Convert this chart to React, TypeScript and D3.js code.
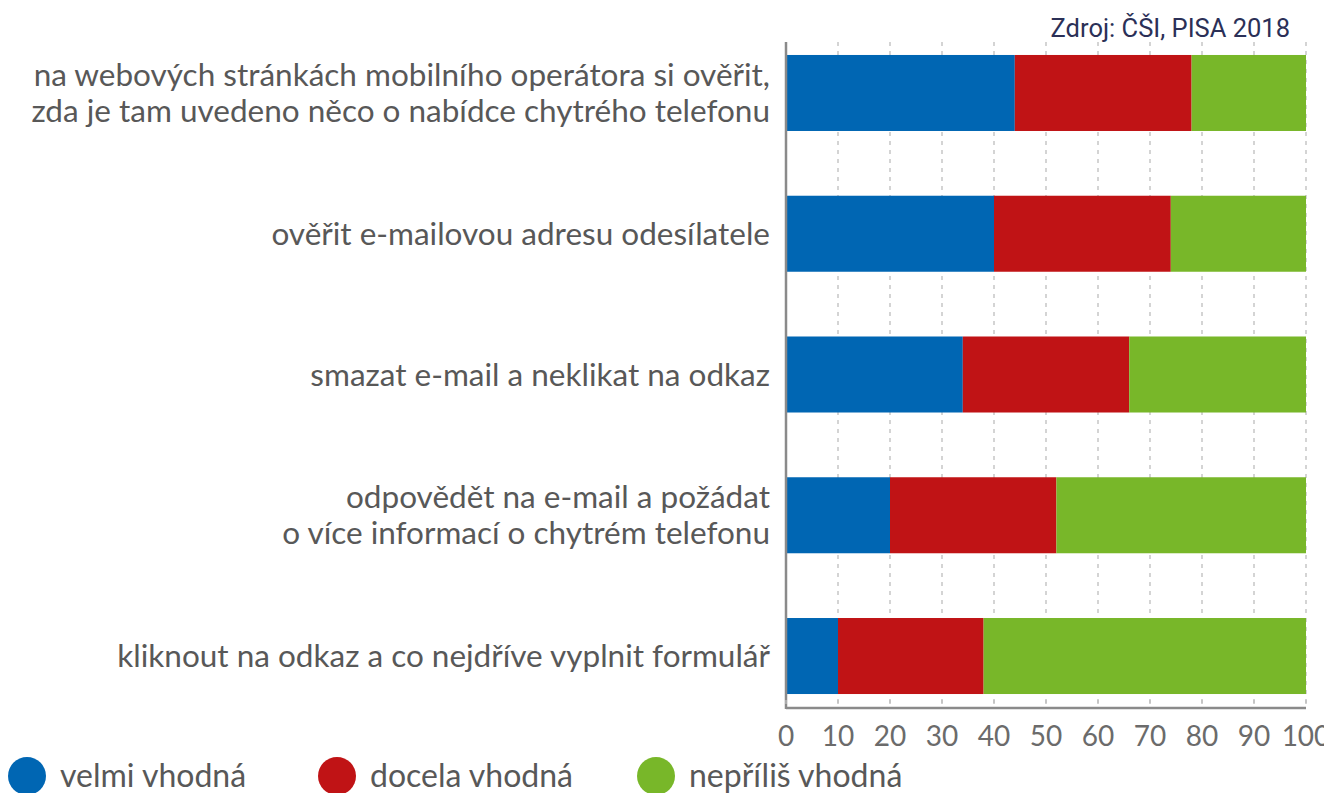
import React from "react";
import * as d3 from "d3";

const categories: string[][] = [
  ["na webových stránkách mobilního operátora si ověřit,", "zda je tam uvedeno něco o nabídce chytrého telefonu"],
  ["ověřit e-mailovou adresu odesílatele"],
  ["smazat e-mail a neklikat na odkaz"],
  ["odpovědět na e-mail a požádat", "o více informací o chytrém telefonu"],
  ["kliknout na odkaz a co nejdříve vyplnit formulář"],
];
const seriesNames = ["velmi vhodná", "docela vhodná", "nepříliš vhodná"];
const seriesColors = ["#0066b3", "#c01315", "#78b729"];
const velmi = [44, 40, 34, 20, 10];
const docela = [34, 34, 32, 32, 28];
const neprilis = [22, 26, 34, 48, 62];
const ticks = [0, 10, 20, 30, 40, 50, 60, 70, 80, 90, 100];
const source = "Zdroj: ČŠI, PISA 2018";

const W = 1324;
const H = 793;
const x0 = 786;
const x1 = 1306;
const yTop = 42;
const yBottom = 708;

export default function App() {
  const x = d3.scaleLinear().domain([0, 100]).range([x0, x1]);
  const y = d3
    .scaleBand<number>()
    .domain(categories.map((_, i) => i))
    .range([22.6, 726.4])
    .paddingInner(0.46)
    .paddingOuter(0.23);
  const stackData = categories.map((_, i) => ({ a: velmi[i], b: docela[i], c: neprilis[i] }));
  const stack = d3.stack<any>().keys(["a", "b", "c"])(stackData);
  const fontLabel = "'Lato', 'Open Sans', sans-serif";
  const legendX = [27, 337, 656];
  return (
    <svg width={W} height={H} style={{ position: "absolute", left: 0, top: 0, background: "#fff" }}>
      {ticks.slice(1).map((t) => (
        <line key={"g" + t} x1={x(t)} x2={x(t)} y1={yTop} y2={yBottom} stroke="#bdbdbd" strokeWidth={1.3} strokeDasharray="4 5" />
      ))}
      {stack.map((layer, si) =>
        layer.map((d, i) => (
          <rect
            key={si + "-" + i}
            x={x(d[0])}
            y={y(i)!}
            width={x(d[1]) - x(d[0])}
            height={y.bandwidth()}
            fill={seriesColors[si]}
          />
        ))
      )}
      <line x1={x0} x2={x0} y1={yTop} y2={yBottom + 1} stroke="#8a8a8a" strokeWidth={2.5} />
      <line x1={x0} x2={x1} y1={yBottom} y2={yBottom} stroke="#8a8a8a" strokeWidth={2.5} />
      {ticks.map((t) => (
        <line key={"tm" + t} x1={x(t)} x2={x(t)} y1={yBottom - 8} y2={yBottom - 4} stroke="#bdbdbd" strokeWidth={1.3} />
      ))}
      {ticks.map((t) => (
        <text key={"t" + t} x={x(t)} y={746} textAnchor="middle" fontFamily={fontLabel} fontSize={28} fill="#6b6b6b">
          {t}
        </text>
      ))}
      {categories.map((lines, i) => {
        const cy = y(i)! + y.bandwidth() / 2;
        const lh = 36;
        return lines.map((l, li) => (
          <text
            key={"c" + i + "-" + li}
            x={770}
            y={cy + (li - (lines.length - 1) / 2) * lh + 11}
            textAnchor="end"
            fontFamily={fontLabel}
            fontSize={31.5}
            fill="#585858"
          >
            {l}
          </text>
        ));
      })}
      <text x={1290} y={37} textAnchor="end" fontFamily="Roboto, sans-serif" fontSize={25.5} fill="#2b3057">
        {source}
      </text>
      {seriesNames.map((n, i) => (
        <g key={"l" + i}>
          <ellipse cx={legendX[i]} cy={776} rx={19} ry={19} fill={seriesColors[i]} />
          <text x={legendX[i] + 33} y={787} fontFamily={fontLabel} fontSize={32} fill="#585858">
            {n}
          </text>
        </g>
      ))}
    </svg>
  );
}
